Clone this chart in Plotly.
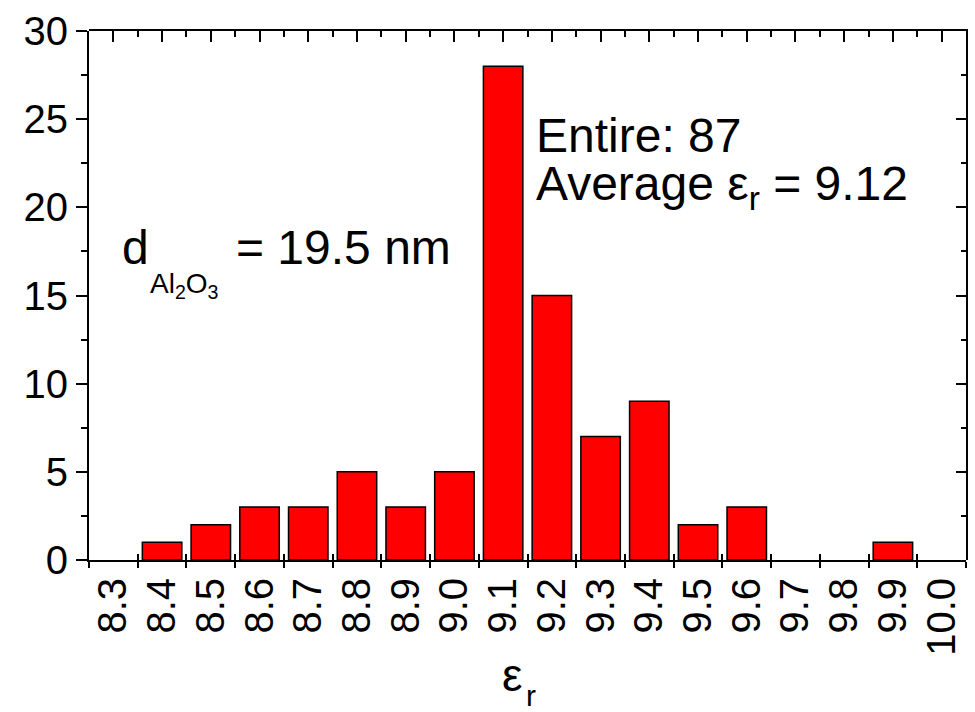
import plotly.graph_objects as go

# Histogram of relative permittivity values (bin labels and counts)
bins = ["8.3", "8.4", "8.5", "8.6", "8.7", "8.8", "8.9", "9.0", "9.1",
        "9.2", "9.3", "9.4", "9.5", "9.6", "9.7", "9.8", "9.9", "10.0"]
counts = [0, 1, 2, 3, 3, 5, 3, 5, 28, 15, 7, 9, 2, 3, 0, 0, 1, 0]

y_ticks = [0, 5, 10, 15, 20, 25, 30]

FONT = "Arial, Liberation Sans, sans-serif"
n = len(bins)
centers = list(range(n))
edges = [i - 0.5 for i in range(n + 1)]

fig = go.Figure()
fig.add_trace(go.Bar(
    x=bins, y=counts,
    marker=dict(color="#FF0000",
                line=dict(color="black",
                          width=[1.5 if c > 0 else 0 for c in counts])),
    showlegend=False,
))

# transparent copies of the data on the frame subplots (top/right, bottom)
fig.add_trace(go.Scatter(x=centers, y=counts, xaxis="x2", yaxis="y2",
                         mode="markers", marker=dict(opacity=0, size=1),
                         showlegend=False, hoverinfo="skip"))
fig.add_trace(go.Scatter(x=centers, y=counts, xaxis="x3", yaxis="y3",
                         mode="markers", marker=dict(opacity=0, size=1),
                         showlegend=False, hoverinfo="skip"))

axis_line = dict(showline=True, linecolor="black", linewidth=2,
                 showgrid=False, zeroline=False)
tick_style = dict(tickwidth=2, tickcolor="black")

fig.update_layout(
    width=975, height=712,
    margin=dict(l=89, r=9, t=26, b=152),
    paper_bgcolor="white", plot_bgcolor="rgba(0,0,0,0)",
    bargap=0.19,
    font=dict(family=FONT, color="black"),
    xaxis=dict(
        type="category", categoryorder="array", categoryarray=bins,
        range=[-0.5, n - 0.5], tickson="boundaries",
        ticks="outside", ticklen=6, **tick_style,
        tickangle=-90, tickfont=dict(size=40, family=FONT),
        domain=[0, 1], anchor="y",
        **axis_line,
    ),
    yaxis=dict(
        range=[0, 30], tickmode="array", tickvals=y_ticks,
        ticks="outside", ticklen=11, **tick_style,
        minor=dict(dtick=2.5, ticks="outside", ticklen=6, **tick_style),
        tickfont=dict(size=40, family=FONT),
        domain=[0, 1], anchor="x",
        **axis_line,
    ),
    # top frame: long ticks at bin centres, short ticks at bin edges
    xaxis2=dict(
        anchor="y2", side="top", domain=[0, 1],
        range=[-0.5, n - 0.5], tickmode="array", tickvals=centers,
        ticks="inside", ticklen=11, **tick_style,
        minor=dict(tickmode="array", tickvals=edges, ticks="inside",
                   ticklen=6, **tick_style),
        showticklabels=False, **axis_line,
    ),
    # right frame
    yaxis2=dict(
        anchor="x2", side="right", domain=[0, 1],
        range=[0, 30], tickmode="array", tickvals=y_ticks,
        ticks="inside", ticklen=10, **tick_style,
        minor=dict(dtick=2.5, ticks="inside", ticklen=5, **tick_style),
        showticklabels=False, **axis_line,
    ),
    # inward half of the bottom boundary ticks
    xaxis3=dict(
        anchor="y3", side="bottom", domain=[0, 1],
        range=[-0.5, n - 0.5], tickmode="array", tickvals=edges,
        ticks="inside", ticklen=6, **tick_style,
        showticklabels=False, **axis_line,
    ),
    yaxis3=dict(anchor="x3", domain=[0, 1], range=[0, 30], visible=False),
)

big = dict(size=48, family=FONT, color="black")
small = dict(size=28, family=FONT, color="black")

def ann(text, x, y, font):
    fig.add_annotation(text=text, x=x, y=y, xref="paper", yref="paper",
                       xanchor="left", yanchor="middle", showarrow=False,
                       font=font, borderpad=0)

ann("Entire: 87", 0.508, 0.802, big)
ann("Average ε<sub>r</sub> = 9.12", 0.508, 0.705, big)
ann("d", 0.036, 0.590, big)
ann("Al<sub>2</sub>O<sub>3</sub>", 0.068, 0.518, small)
ann("= 19.5 nm", 0.167, 0.590, big)

# x-axis title: epsilon with a lowered subscript r
ann("ε", 0.470, -0.218, dict(size=46, family=FONT, color="black"))
ann("r", 0.497, -0.256, dict(size=30, family=FONT, color="black"))

fig.write_html("out.html")
